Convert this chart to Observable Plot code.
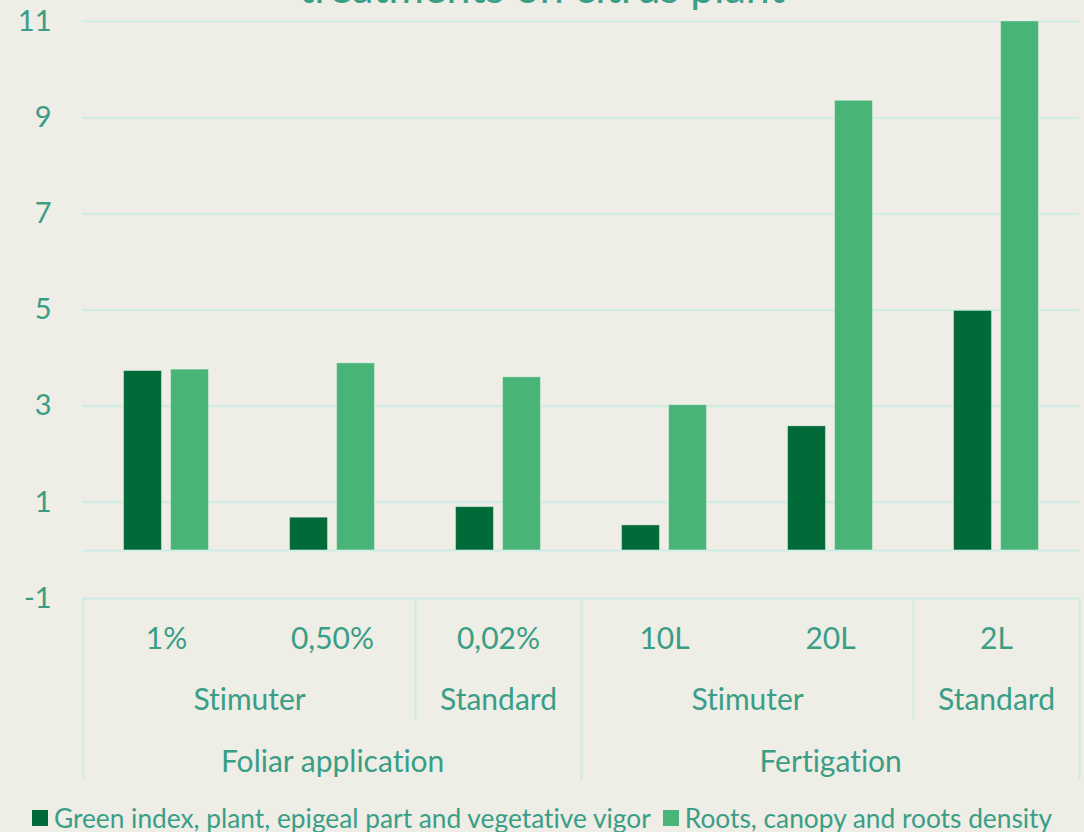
<!DOCTYPE html>
<html><head><meta charset="utf-8">
<script src="https://cdn.jsdelivr.net/npm/d3@7"></script>
<script src="https://cdn.jsdelivr.net/npm/@observablehq/plot@0.6"></script>
<style>
html,body{margin:0;padding:0;background:#EEEDE6;overflow:hidden;width:1084px;height:832px;}
*{font-variant-ligatures:none;font-feature-settings:"liga" 0;}
#wrap{position:relative;width:1084px;height:832px;font-family:Lato,sans-serif;color:#3A9E86;}
#chart{position:absolute;left:0;top:0;}
#title{position:absolute;left:0;width:1084px;text-align:center;top:-34px;font-size:43px;line-height:42px;white-space:nowrap;}
#legend{position:absolute;top:804px;left:0;width:1084px;height:28px;display:flex;justify-content:center;align-items:center;font-size:26.3px;white-space:nowrap;}
.sw{display:inline-block;width:16px;height:16px;margin-right:6px;}
.item{display:flex;align-items:center;margin:0 6px;}
</style></head>
<body><div id="wrap"><div id="chart"></div><div id="title">treatments on citrus plant</div><div id="legend"></div></div>
<script>
const treatments = ["1%", "0,50%", "0,02%", "10L", "20L", "2L"];
const products = ["Stimuter", "Stimuter", "Standard", "Stimuter", "Stimuter", "Standard"];
const methods = ["Foliar application", "Foliar application", "Foliar application", "Fertigation", "Fertigation", "Fertigation"];
const seriesNames = ["Green index, plant, epigeal part and vegetative vigor", "Roots, canopy and roots density"];
const greenIndex = [3.73, 0.68, 0.90, 0.52, 2.58, 4.98];
const rootsDensity = [3.76, 3.89, 3.60, 3.02, 9.35, 11.0];
const yTicks = [-1, 1, 3, 5, 7, 9, 11];

const colors = ["#006A38", "#48B478"];
const teal = "#3A9E86";
const gridColor = "#CDEDE3";
const W = 1084, H = 804, mL = 82, mR = 5, mT = 21, mB = 206;
const bw = (W - mL - mR) / treatments.length;
const fs = 30, fsTick = 29;

const rows0 = treatments.map((t, i) => ({treatment: t, series: seriesNames[0], value: greenIndex[i]}));
const rows1 = treatments.map((t, i) => ({treatment: t, series: seriesNames[1], value: rootsDensity[i]}));

// runs of consecutive equal labels
function runs(keys, labels) {
  const out = [];
  keys.forEach((k, i) => {
    const last = out[out.length - 1];
    if (last && last.key === k) last.n++;
    else out.push({key: k, label: labels[i], first: treatments[i], start: i, n: 1});
  });
  return out;
}
const level2 = runs(treatments.map((t, i) => methods[i] + "|" + products[i]), products);
const level3 = runs(methods, methods);
const level3Starts = new Set(level3.map(r => r.start));
const deepLeft = level3.map(r => r.first);
const shallowLeft = level2.filter(r => !level3Starts.has(r.start)).map(r => r.first);
const rightEdge = [treatments[treatments.length - 1]];

const chart = Plot.plot({
  width: W, height: H,
  marginLeft: mL, marginRight: mR, marginTop: mT, marginBottom: mB,
  style: {background: "transparent", color: teal, fontFamily: "Lato, sans-serif", fontSize: fs + "px", overflow: "visible"},
  x: {domain: treatments, padding: 0, axis: null, label: null},
  y: {domain: [-1, 11], axis: null, label: null},
  marks: [
    Plot.ruleY(yTicks, {stroke: gridColor, strokeWidth: 2}),
    Plot.ruleY([0], {stroke: gridColor, strokeWidth: 2}),
    Plot.axisY({ticks: yTicks, tickSize: 0, tickPadding: 31, tickFormat: d => String(d), fontSize: fsTick, fill: teal, label: null}),
    Plot.barY(rows0, {x: "treatment", y: "value", fill: colors[0], insetLeft: (bw - 38) / 2, insetRight: (bw - 38) / 2, dx: -23.5, stroke: "#ffffff", strokeOpacity: 0.35, strokeWidth: 1}),
    Plot.barY(rows1, {x: "treatment", y: "value", fill: colors[1], insetLeft: (bw - 38) / 2, insetRight: (bw - 38) / 2, dx: 23.5, stroke: "#ffffff", strokeOpacity: 0.35, strokeWidth: 1}),
    Plot.ruleX(deepLeft, {x: d => d, y1: -1, y2: -1, insetBottom: -182, dx: -bw / 2, stroke: gridColor, strokeWidth: 2}),
    Plot.ruleX(rightEdge, {x: d => d, y1: -1, y2: -1, insetBottom: -182, dx: bw / 2, stroke: gridColor, strokeWidth: 2}),
    Plot.ruleX(shallowLeft, {x: d => d, y1: -1, y2: -1, insetBottom: -122, dx: -bw / 2, stroke: gridColor, strokeWidth: 2}),
    Plot.text(treatments, {x: d => d, frameAnchor: "bottom", lineAnchor: "middle", dy: 41, fill: teal, fontSize: fs}),
    ...level2.map(r => Plot.text([r], {x: d => d.first, text: "label", frameAnchor: "bottom", lineAnchor: "middle", dy: 102, dx: (r.n - 1) * bw / 2, fill: teal, fontSize: fs})),
    ...level3.map(r => Plot.text([r], {x: d => d.first, text: "label", frameAnchor: "bottom", lineAnchor: "middle", dy: 164, dx: (r.n - 1) * bw / 2, fill: teal, fontSize: fs}))
  ]
});
document.getElementById("chart").appendChild(chart);

const legend = document.getElementById("legend");
seriesNames.forEach((s, i) => {
  const it = document.createElement("span");
  it.className = "item";
  it.innerHTML = `<span class="sw" style="background:${colors[i]}"></span>${s}`;
  legend.appendChild(it);
});
</script>
</body></html>
